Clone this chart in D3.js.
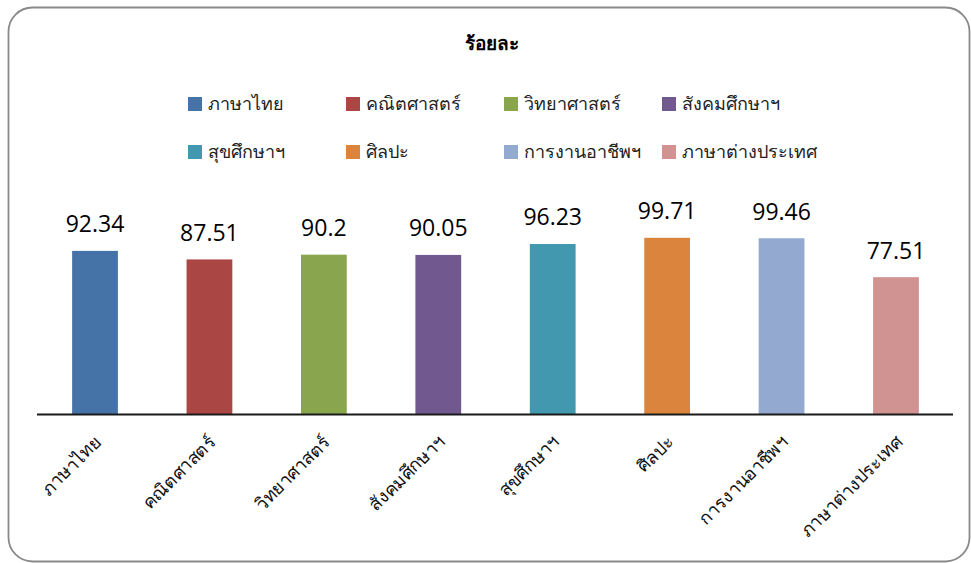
<!DOCTYPE html>
<html>
<head>
<meta charset="utf-8">
<script src="https://cdn.jsdelivr.net/npm/d3@7"></script>
<style>
  html, body { margin: 0; padding: 0; background: #fff; }
  svg { display: block; }
</style>
</head>
<body>
<svg id="chart" width="971" height="563"></svg>
<script>
const categories = ["ภาษาไทย", "คณิตศาสตร์", "วิทยาศาสตร์", "สังคมศึกษาฯ", "สุขศึกษาฯ", "ศิลปะ", "การงานอาชีพฯ", "ภาษาต่างประเทศ"];
const values = [92.34, 87.51, 90.2, 90.05, 96.23, 99.71, 99.46, 77.51];
const colors = ["#4572A7", "#AA4643", "#89A54E", "#71588F", "#4198AF", "#DB843D", "#93A9CF", "#D19392"];
const title = "ร้อยละ";

const thaiFont = "'Noto Sans', 'DejaVu Sans', sans-serif";
const numFont = "'Open Sans', sans-serif";

const svg = d3.select("#chart");

// outer rounded border
svg.append("rect")
  .attr("x", 8.5).attr("y", 7.5)
  .attr("width", 961).attr("height", 554)
  .attr("rx", 24).attr("ry", 24)
  .attr("fill", "#fff")
  .attr("stroke", "#898989")
  .attr("stroke-width", 1.8);

// title
svg.append("text")
  .attr("x", 492).attr("y", 50)
  .attr("text-anchor", "middle")
  .attr("font-family", thaiFont)
  .attr("font-weight", "bold")
  .attr("font-size", 19)
  .attr("fill", "#000")
  .text(title);

// scales
const x = d3.scaleBand()
  .domain(categories)
  .range([37.8, 953.2])
  .paddingInner(0.6)
  .paddingOuter(0.3);

const y = d3.scaleLinear()
  .domain([0, 100])
  .range([414.5, 237.3]);

// bars
svg.append("g").selectAll("rect")
  .data(values)
  .join("rect")
  .attr("x", (d, i) => x(categories[i]))
  .attr("y", d => y(d))
  .attr("width", x.bandwidth())
  .attr("height", d => y(0) - y(d))
  .attr("fill", (d, i) => colors[i]);

// value labels
svg.append("g").selectAll("text")
  .data(values)
  .join("text")
  .attr("x", (d, i) => x(categories[i]) + x.bandwidth() / 2)
  .attr("y", d => y(d) - 18.5)
  .attr("text-anchor", "middle")
  .attr("font-family", numFont)
  .attr("font-size", 23)
  .attr("fill", "#000")
  .text(d => d);

// x axis baseline
const xAxis = d3.axisBottom(x).tickSize(0).tickPadding(0);
const gx = svg.append("g")
  .attr("transform", `translate(0,${y(0)})`)
  .call(xAxis);
gx.select(".domain")
  .attr("d", `M37,0H953`)
  .attr("stroke", "#1a1a1a")
  .attr("stroke-width", 2);
gx.selectAll(".tick text")
  .attr("font-family", thaiFont)
  .attr("font-size", 18)
  .attr("fill", "#111")
  .attr("text-anchor", "end")
  .attr("y", 0)
  .attr("dy", "0.35em")
  .attr("transform", "translate(3,24) rotate(-45)");

// legend
const legendCols = [188, 346, 504, 662];
const legendRows = [104, 152];
const legend = svg.append("g").selectAll("g")
  .data(categories)
  .join("g")
  .attr("transform", (d, i) => `translate(${legendCols[i % 4]},${legendRows[Math.floor(i / 4)]})`);
legend.append("rect")
  .attr("x", 0).attr("y", -7)
  .attr("width", 14).attr("height", 14)
  .attr("fill", (d, i) => colors[i]);
legend.append("text")
  .attr("x", 20).attr("y", 0)
  .attr("dy", "0.35em")
  .attr("font-family", thaiFont)
  .attr("font-size", 18)
  .attr("fill", "#222")
  .text(d => d);
</script>
</body>
</html>
